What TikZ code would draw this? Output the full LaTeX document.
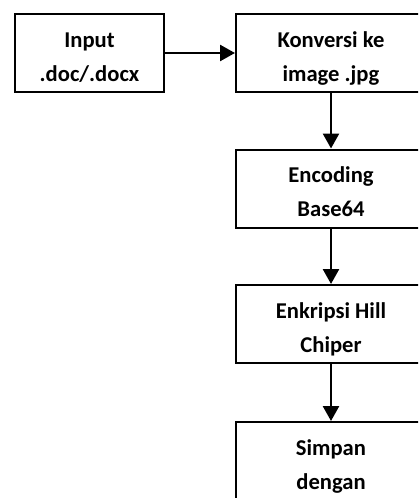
\documentclass[tikz,border=0pt]{standalone}
\usepackage{fontspec}
\setmainfont{Carlito}
\usetikzlibrary{arrows.meta}
\begin{document}
\begin{tikzpicture}[x=0.5pt,y=-0.5pt,
    box/.style={draw,line width=1pt,align=flush center,inner sep=0pt,
        text width=70pt,minimum height=39pt,
        font=\fontsize{11.3}{17.2}\selectfont\bfseries,
        execute at begin node={\rule{0pt}{13.2pt}},
        execute at end node={\rule[-2pt]{0pt}{2pt}}},
    flow/.style={-{Triangle[length=7.5pt,width=8pt]},line width=1.3pt}]
    \useasboundingbox (0,0) rectangle (418,498);
    \clip (0,0) rectangle (418,498);
    % left box and the column of steps
    \node [box,minimum width=74.5pt] (input) at (89.5,53) {Input\\.doc/.docx};
    \node [box,minimum width=95pt] (konversi) at (331,53) {Konversi ke\\image .jpg};
    \node [box,minimum width=95pt] (encoding) at (331,188.5) {Encoding\\Base64};
    \node [box,minimum width=95pt] (enkripsi) at (331,324) {Enkripsi Hill\\Chiper};
    \node [box,minimum width=95pt] (simpan) at (331,461) {Simpan\\dengan};
    \draw [flow] (input) -- (konversi);
    \draw [flow] (konversi) -- (encoding);
    \draw [flow] (encoding) -- (enkripsi);
    \draw [flow] (enkripsi) -- (simpan);
\end{tikzpicture}
\end{document}
